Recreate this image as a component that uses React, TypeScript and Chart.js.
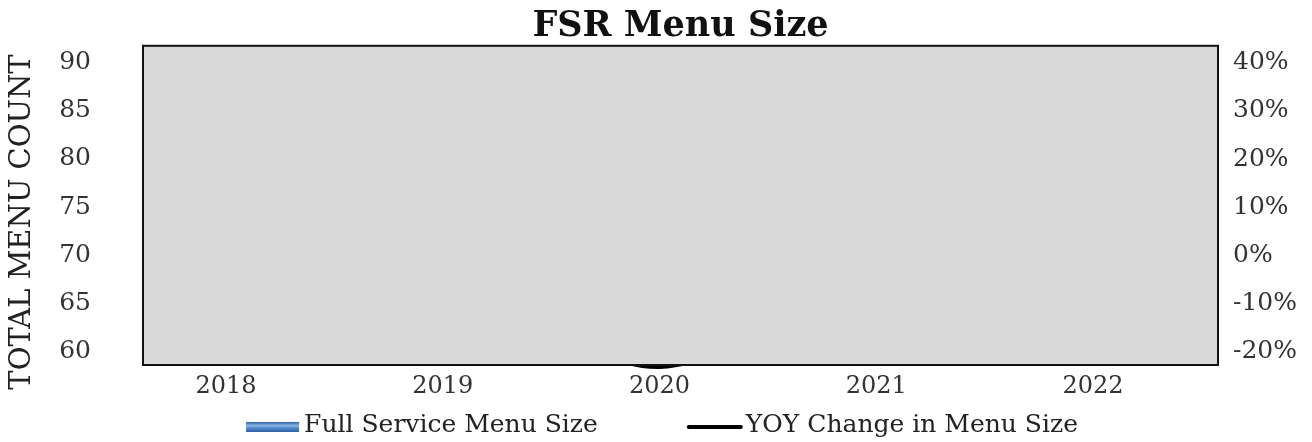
import React, { useEffect, useRef } from "react";
import { Chart, registerables } from "chart.js";

Chart.register(...registerables);

const years = [2018, 2019, 2020, 2021, 2022];
const menuSize = [83, 84, 64.5, 66.5, 69.5];
const yoyChange = [2.0, 1.2, -23.2, 3.1, 4.5];
const leftTicks = [60, 65, 70, 75, 80, 85, 90];
const rightTicks = [-20, -10, 0, 10, 20, 30, 40];
const leftAxisTitle = "TOTAL MENU COUNT";

const FONT = "'DejaVu Serif', 'Liberation Serif', serif";

const plotPanel = {
  id: "plotPanel",
  afterDatasetsDraw(chart: any) {
    const { ctx, chartArea } = chart;
    const { left, top, right, bottom } = chartArea;
    ctx.save();
    ctx.fillStyle = "#d9d9d9";
    ctx.fillRect(left, top, right - left, bottom - top);
    ctx.strokeStyle = "#111";
    ctx.lineWidth = 2;
    ctx.strokeRect(left, top, right - left, bottom - top);
    ctx.restore();
  },
  afterDraw(chart: any) {
    const { ctx, chartArea } = chart;
    ctx.save();
    // left axis title
    ctx.font = `29px ${FONT}`;
    ctx.fillStyle = "#222";
    ctx.textAlign = "center";
    ctx.textBaseline = "middle";
    ctx.translate(22, 222);
    ctx.rotate(-Math.PI / 2);
    ctx.fillText(leftAxisTitle, 0, 0);
    ctx.restore();

    // legend
    ctx.save();
    ctx.font = `25px ${FONT}`;
    const ds = chart.data.datasets;
    const iconW = [53, 56];
    const iconGap = [5, 3];
    const itemGap = 89;
    const widths = ds.map((d: any, i: number) => iconW[i] + iconGap[i] + ctx.measureText(d.label).width);
    const total = widths[0] + itemGap + widths[1];
    let x = 662 - total / 2;
    const cy = 427;
    ds.forEach((d: any, i: number) => {
      if (i === 0) {
        const g = ctx.createLinearGradient(0, cy - 5, 0, cy + 5);
        g.addColorStop(0, "#2e5e9e");
        g.addColorStop(0.35, "#86b4e4");
        g.addColorStop(0.65, "#4f86c8");
        g.addColorStop(1, "#2e5e9e");
        ctx.fillStyle = g;
        ctx.fillRect(x, cy - 5, iconW[0], 10);
      } else {
        ctx.strokeStyle = "#000";
        ctx.lineWidth = 4;
        ctx.lineCap = "round";
        ctx.beginPath();
        ctx.moveTo(x + 2, cy);
        ctx.lineTo(x + iconW[1] - 2, cy);
        ctx.stroke();
      }
      ctx.fillStyle = "#222";
      ctx.textAlign = "left";
      ctx.textBaseline = "middle";
      ctx.fillText(d.label, x + iconW[i] + iconGap[i], cy - 2);
      x += widths[i] + itemGap;
    });
    ctx.restore();
  },
};

export default function App() {
  const ref = useRef<HTMLCanvasElement | null>(null);
  useEffect(() => {
    if (!ref.current) return;
    const chart = new Chart(ref.current, {
      type: "bar",
      data: {
        datasets: [
          {
            type: "bar",
            label: "Full Service Menu Size",
            data: years.map((y, i) => ({ x: y, y: menuSize[i] })),
            backgroundColor: "#4f81bd",
            borderColor: "#2f5f9a",
            borderWidth: 1,
            yAxisID: "y",
          } as any,
          {
            type: "line",
            label: "YOY Change in Menu Size",
            data: years.map((y, i) => ({ x: y, y: yoyChange[i] })),
            borderColor: "#000",
            backgroundColor: "#000",
            borderWidth: 3,
            tension: 0.4,
            pointRadius: 0,
            clip: false,
            yAxisID: "y1",
          } as any,
        ],
      },
      options: {
        animation: false,
        responsive: true,
        maintainAspectRatio: false,
        layout: { padding: { top: 0, left: 0, right: 0, bottom: 43 } },
        plugins: {
          title: {
            display: true,
            text: "FSR Menu Size",
            fullSize: false,
            color: "#111",
            font: { family: FONT, size: 35, weight: "bold", lineHeight: 1.08 },
            padding: { top: 8, bottom: 0 },
          },
          legend: { display: false },
          tooltip: { enabled: false },
        },
        scales: {
          x: {
            type: "linear",
            min: 2017.617,
            max: 2022.577,
            offset: false,
            grid: { display: false, drawTicks: false },
            border: { display: false },
            afterBuildTicks: (s: any) => {
              s.ticks = years.map((v) => ({ value: v }));
            },
            afterFit: (s: any) => {
              s.height = 34;
              s.paddingLeft = 0;
              s.paddingRight = 0;
            },
            ticks: {
              padding: 7,
              color: "#333",
              font: { family: FONT, size: 24 },
              callback: (v: any) => String(v),
            },
          },
          y: {
            type: "linear",
            position: "left",
            min: 58.64,
            max: 91.73,
            grid: { display: false, drawTicks: false },
            border: { display: false },
            afterBuildTicks: (s: any) => {
              s.ticks = leftTicks.map((v) => ({ value: v }));
            },
            afterFit: (s: any) => {
              s.width = 143;
              s.paddingTop = 0;
              s.paddingBottom = 0;
            },
            ticks: {
              padding: 52,
              color: "#333",
              font: { family: FONT, size: 25 },
            },
          },
          y1: {
            type: "linear",
            position: "right",
            min: -22.7,
            max: 43.5,
            grid: { display: false, drawTicks: false },
            border: { display: false },
            afterBuildTicks: (s: any) => {
              s.ticks = rightTicks.map((v) => ({ value: v }));
            },
            afterFit: (s: any) => {
              s.width = 94;
              s.paddingTop = 0;
              s.paddingBottom = 0;
            },
            ticks: {
              padding: 15,
              color: "#333",
              font: { family: FONT, size: 25 },
              callback: (v: any) => `${v}%`,
            },
          },
        },
      } as any,
      plugins: [plotPanel],
    });
    return () => chart.destroy();
  }, []);
  return (
    <div style={{ position: "fixed", left: 0, top: 0, width: 1312, height: 442, background: "#fff" }}>
      <canvas ref={ref} />
    </div>
  );
}
